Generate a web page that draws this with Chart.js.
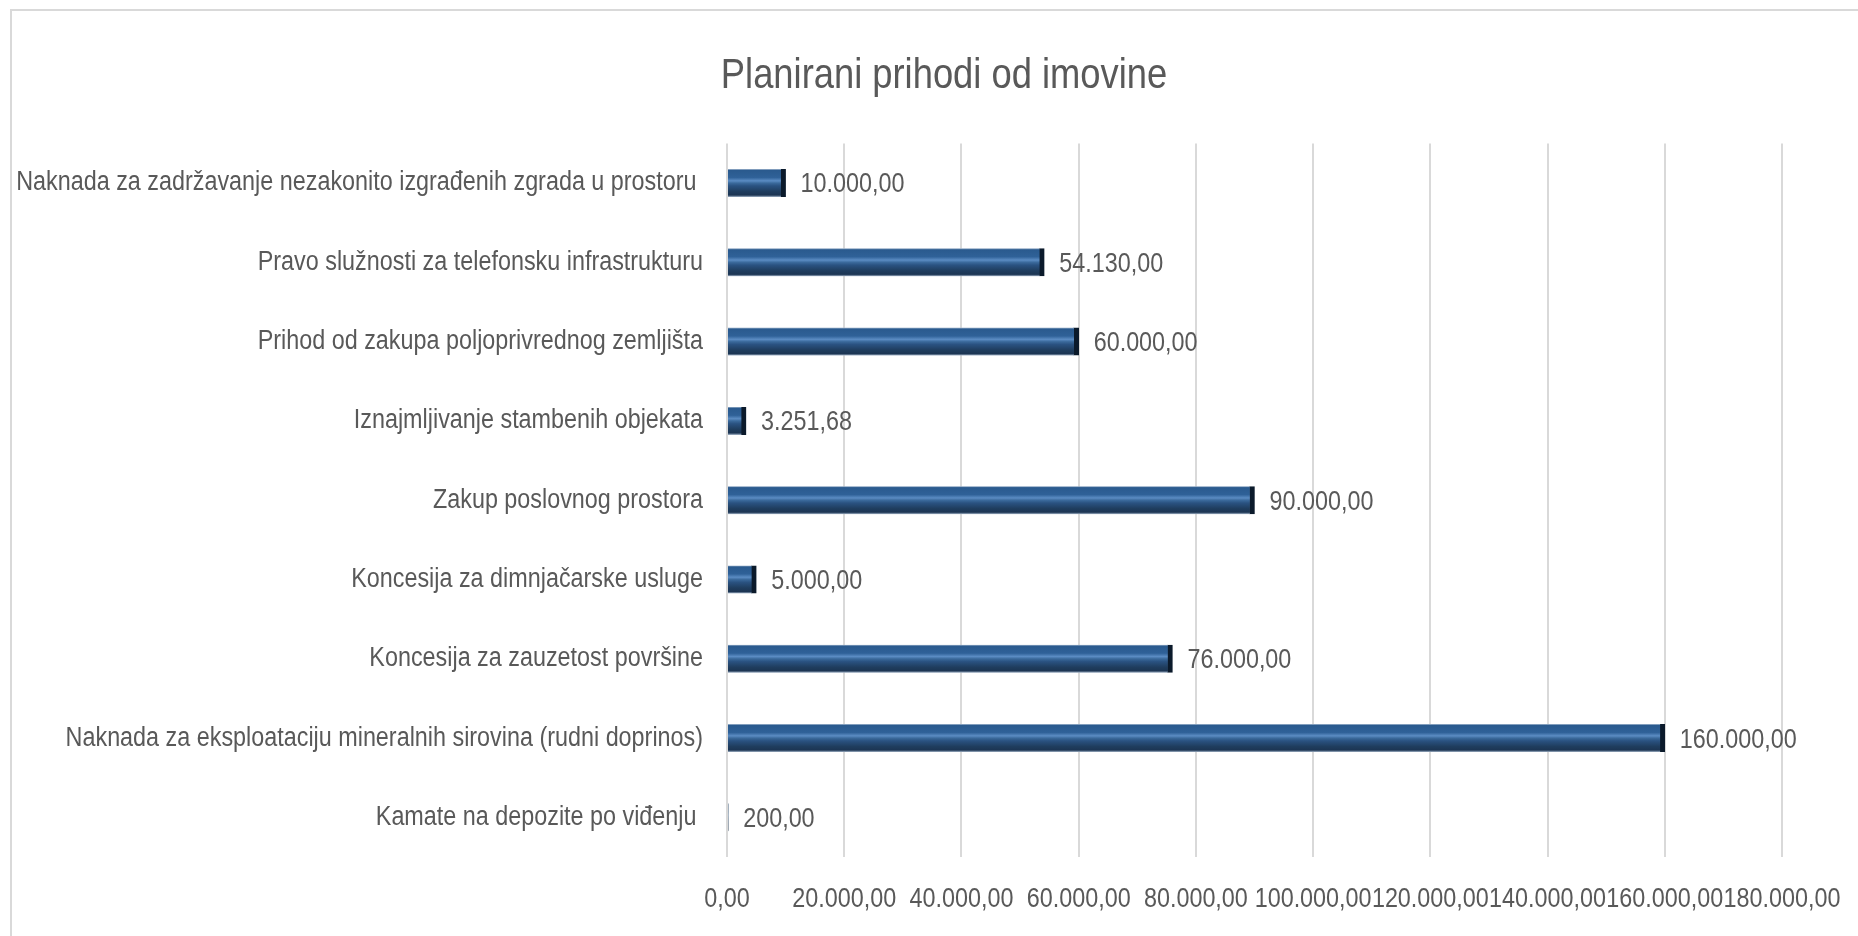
<!DOCTYPE html>
<html><head><meta charset="utf-8">
<script src="https://cdn.jsdelivr.net/npm/chart.js@4.4.1/dist/chart.umd.min.js"></script>
<style>
html,body{margin:0;padding:0;background:#fff;overflow:hidden}
#wrap{position:relative;width:1858px;height:936px}
#frame{position:absolute;left:10px;top:9px;width:1900px;height:1000px;border-left:2px solid #D9D9D9;border-top:2px solid #D9D9D9;box-sizing:border-box}
canvas{position:absolute;left:0;top:0}
</style></head><body>
<div id="wrap"><div id="frame"></div><canvas id="c" width="1858" height="936"></canvas></div>
<script>
const chartTitle = 'Planirani prihodi od imovine';
const categories = [
  'Naknada za zadržavanje nezakonito izgrađenih zgrada u prostoru ',
  'Pravo služnosti za telefonsku infrastrukturu',
  'Prihod od zakupa poljoprivrednog zemljišta',
  'Iznajmljivanje stambenih objekata',
  'Zakup poslovnog prostora',
  'Koncesija za dimnjačarske usluge',
  'Koncesija za zauzetost površine',
  'Naknada za eksploataciju mineralnih sirovina (rudni doprinos)',
  'Kamate na depozite po viđenju '
];
const values = [10000, 54130, 60000, 3251.68, 90000, 5000, 76000, 160000, 200];
const axisMin = 0;
const axisMax = 180000;
const axisStep = 20000;

const FONT = "'Liberation Sans Narrow', 'Arial Narrow', 'Liberation Sans', sans-serif";
const TEXT = '#595959';
const fmt = v => Number(v).toLocaleString('de-DE', {minimumFractionDigits: 2, maximumFractionDigits: 2});

Chart.defaults.font.family = FONT;
Chart.defaults.color = TEXT;

// condensed text rendering (the original uses a narrow typeface)
const canvas = document.getElementById('c');
const ctx2d = canvas.getContext('2d');
const SX = 0.865;
const nativeFill = CanvasRenderingContext2D.prototype.fillText;
ctx2d.fillText = function(text, x, y, maxWidth) {
  this.save();
  this.translate(x, y);
  this.scale(SX, 1);
  if (maxWidth !== undefined && maxWidth !== null) nativeFill.call(this, text, 0, 0, maxWidth / SX);
  else nativeFill.call(this, text, 0, 0);
  this.restore();
};

const valueLabels = {
  id: 'valueLabels',
  afterDatasetsDraw(chart) {
    const c = chart.ctx;
    const meta = chart.getDatasetMeta(0);
    c.save();
    c.font = '27px ' + FONT;
    c.fillStyle = TEXT;
    c.textAlign = 'left';
    c.textBaseline = 'middle';
    meta.data.forEach((bar, i) => {
      c.fillText(fmt(values[i]), bar.x + 15, bar.y + 2);
    });
    c.restore();
  }
};

function barFill(ctx) {
  const chart = ctx.chart;
  const ys = chart.scales && chart.scales.y;
  if (!ys || ctx.type !== 'data') return '#2B5A8A';
  const yc = ys.getPixelForValue(ctx.dataIndex);
  if (!isFinite(yc)) return '#2B5A8A';
  const g = chart.ctx.createLinearGradient(0, yc - 14, 0, yc + 14);
  g.addColorStop(0, '#A9BCD2');
  g.addColorStop(0.05, '#2A5A8E');
  g.addColorStop(0.30, '#2F6198');
  g.addColorStop(0.42, '#5B8CC3');
  g.addColorStop(0.50, '#3B6A9C');
  g.addColorStop(0.60, '#2A5281');
  g.addColorStop(0.80, '#1F3D5E');
  g.addColorStop(0.93, '#1C3553');
  g.addColorStop(1, '#A5B6CA');
  return g;
}

new Chart(canvas, {
  type: 'bar',
  data: {
    labels: categories,
    datasets: [{
      data: values,
      backgroundColor: barFill,
      borderColor: '#0B1A2B',
      borderWidth: {top: 0, bottom: 0, left: 0, right: 5},
      borderSkipped: 'start',
      barThickness: 28
    }]
  },
  options: {
    indexAxis: 'y',
    responsive: false,
    animation: false,
    devicePixelRatio: 1,
    layout: {padding: {left: 30, right: 0, top: 0, bottom: 0}},
    plugins: {
      legend: {display: false},
      tooltip: {enabled: false},
      title: {
        display: true,
        text: chartTitle,
        color: TEXT,
        font: {family: FONT, size: 42, weight: 'normal'},
        padding: {top: 51, bottom: 42}
      }
    },
    scales: {
      x: {
        type: 'linear',
        min: axisMin,
        max: axisMax,
        ticks: {
          stepSize: axisStep,
          callback: v => fmt(v),
          font: {size: 27},
          color: TEXT,
          padding: 0,
          autoSkip: false,
          maxRotation: 0,
          minRotation: 0
        },
        grid: {color: '#D9D9D9', lineWidth: 2, drawTicks: true, tickLength: 26, tickColor: 'rgba(0,0,0,0)'},
        border: {display: false},
        afterFit: s => { s.height = 79; }
      },
      y: {
        ticks: {font: {size: 27}, color: TEXT, padding: 24, autoSkip: false},
        grid: {display: false, drawTicks: false},
        border: {display: false},
        afterFit: s => { s.width = 697; s._computeLabelArea = () => undefined; }
      },
      yRight: {
        type: 'category',
        position: 'right',
        display: true,
        ticks: {display: false},
        grid: {display: false, drawTicks: false},
        border: {display: false},
        afterFit: s => { s.width = 76; }
      }
    }
  },
  plugins: [valueLabels]
});
</script>
</body></html>
